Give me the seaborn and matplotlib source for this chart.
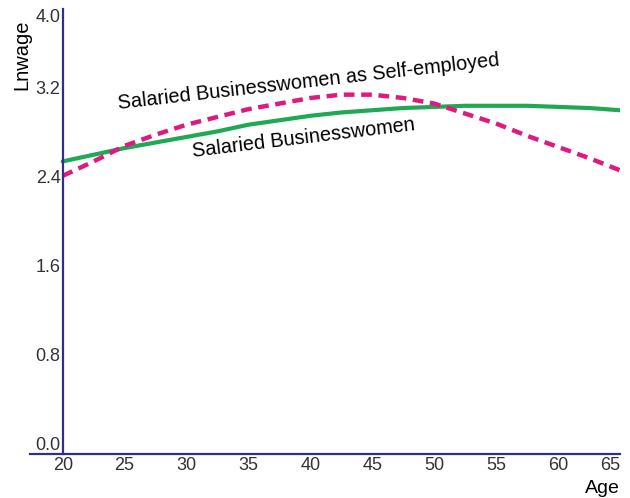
import matplotlib
matplotlib.use("Agg")
import matplotlib.pyplot as plt
import seaborn as sns
import pandas as pd

ages = [20, 22.5, 25, 27.5, 30, 32.5, 35, 37.5, 40, 42.5, 45, 47.5, 50, 52.5, 55, 57.5, 60, 62.5, 65]
salaried = [2.63, 2.69, 2.75, 2.80, 2.85, 2.90, 2.96, 3.00, 3.04, 3.07, 3.09, 3.11, 3.12, 3.13, 3.13, 3.13, 3.12, 3.11, 3.09]
self_employed = [2.50, 2.63, 2.77, 2.87, 2.96, 3.03, 3.10, 3.15, 3.20, 3.23, 3.23, 3.20, 3.15, 3.06, 2.97, 2.86, 2.76, 2.66, 2.55]
x_ticks = [20, 25, 30, 35, 40, 45, 50, 55, 60, 65]
y_ticks = [0.0, 0.8, 1.6, 2.4, 3.2, 4.0]
label_salaried = "Salaried Businesswomen"
label_self = "Salaried Businesswomen as Self-employed"

sns.set_theme(style="white")
plt.rcParams['font.family'] = ['Liberation Sans', 'DejaVu Sans']

navy = "#2e2e8c"
green = "#1fa955"
pink = "#e0197f"
txt = "#333333"

fig = plt.figure(figsize=(6.3, 4.98), dpi=100)
ax = fig.add_axes([30/630, 44/498, 590/630, 445/498])

df = pd.DataFrame({"Age": ages * 2,
                   "Lnwage": salaried + self_employed,
                   "group": [label_salaried] * len(ages) + [label_self] * len(ages)})

sns.lineplot(data=df[df.group == label_salaried], x="Age", y="Lnwage", ax=ax,
             color=green, lw=3.0, legend=False)
sns.lineplot(data=df[df.group == label_self], x="Age", y="Lnwage", ax=ax,
             color=pink, lw=3.2, legend=False)
ax.lines[-1].set_dashes([2.4, 1.5])

ax.set_xlim(17.36, 65)
ax.set_ylim(0, 4.0)
ax.spines['left'].set_position(('data', 20))
ax.spines['top'].set_visible(False)
ax.spines['right'].set_visible(False)
for s in ['left', 'bottom']:
    ax.spines[s].set_color(navy)
    ax.spines[s].set_linewidth(1.6)

ax.set_xticks(x_ticks)
ax.set_xticklabels([str(t) for t in x_ticks])
ax.set_yticks(y_ticks)
ax.set_yticklabels([f"{t:.1f}" for t in y_ticks])
ax.tick_params(axis='both', length=0, labelsize=13, labelcolor=txt)
ax.tick_params(axis='y', pad=1.5)
ax.tick_params(axis='x', pad=2.5)
for lab in ax.get_yticklabels():
    lab.set_va('bottom')
ax.get_yticklabels()[-1].set_va('top')
ax.get_xticklabels()[-1].set_ha('right')
ax.set_xlabel("")
ax.set_ylabel("")
ax.grid(False)

fig.text(22/630, 1 - 55/498, "Lnwage", rotation=90, ha='center', va='center',
         fontsize=14.5, color='black')
fig.text(602/630, 1 - 488/498, "Age", ha='center', va='center',
         fontsize=14, color='black')

fig.text(309/630, 1 - 82/498, label_self, rotation=6.5, ha='center', va='center',
         fontsize=14.3, color='black', rotation_mode='anchor')
fig.text(304/630, 1 - 138/498, label_salaried, rotation=6.9, ha='center', va='center',
         fontsize=14.3, color='black', rotation_mode='anchor')

fig.savefig("out.png", dpi=100)
